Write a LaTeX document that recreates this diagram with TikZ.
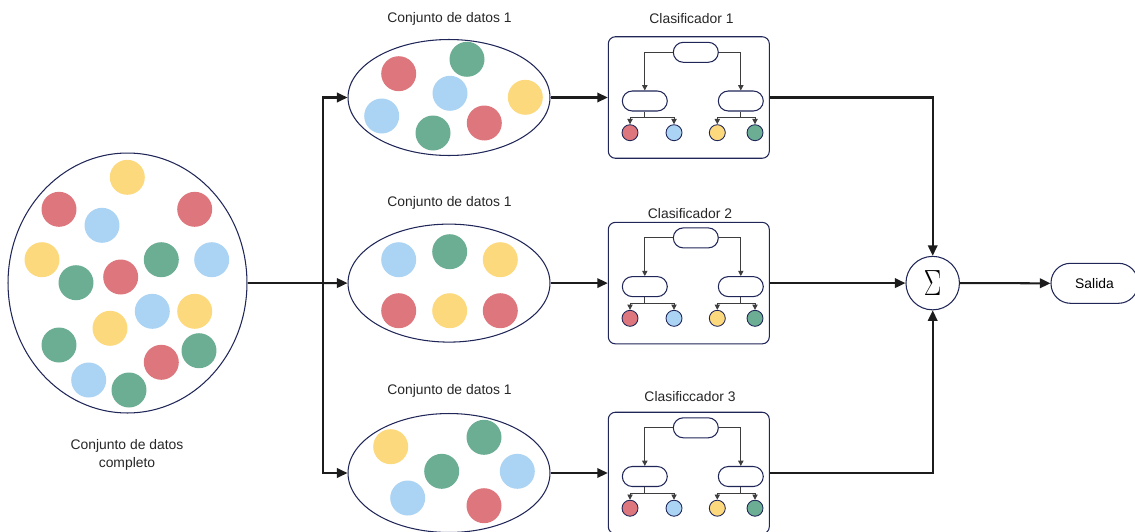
\documentclass[tikz,border=0pt]{standalone}
\usepackage{fontspec}
\setmainfont{Liberation Sans}
\usetikzlibrary{shapes.geometric,arrows.meta}

\definecolor{navy}{RGB}{32,38,88}
\definecolor{ink}{RGB}{28,28,28}
\definecolor{dotred}{RGB}{221,118,125}
\definecolor{dotblue}{RGB}{171,211,243}
\definecolor{dotyellow}{RGB}{253,217,126}
\definecolor{dotgreen}{RGB}{108,174,148}

\tikzset{
  lbl/.style={font=\fontsize{7.9}{10.2}\selectfont, text=black!85, align=center, inner sep=0},
  dot/.style={circle, fill=#1, minimum size=0.7cm, inner sep=0},
  leaf/.style={circle, draw=navy, line width=0.5pt, fill=#1, minimum size=0.32cm, inner sep=0},
  pill/.style={rectangle, draw=navy, line width=0.6pt, rounded corners=0.2cm,
               minimum width=0.9cm, minimum height=0.4cm, inner sep=0},
  setshape/.style={ellipse, draw=navy, line width=0.6pt, inner sep=0},
  clbox/.style={rectangle, draw=navy, line width=0.6pt, rounded corners=0.14cm,
                minimum width=3.22cm, minimum height=2.43cm, inner sep=0},
  flow/.style={draw=ink, line width=1.15pt, -{Triangle[length=6pt,width=5.4pt]}},
  plainflow/.style={draw=ink, line width=1.15pt},
  branch/.style={draw=ink!85, line width=0.55pt, -{Triangle[length=3pt,width=3pt]}},
  plainbranch/.style={draw=ink!85, line width=0.55pt},
}

\begin{document}
\begin{tikzpicture}[x=0.02cm, y=-0.02cm]
\useasboundingbox (0,0) rectangle (1135,531);

% ---------- full data set ----------
\node[setshape, minimum width=4.78cm, minimum height=5.2cm] (all) at (127.5,283) {};
\foreach \px/\py/\c in {
  127.3/177.3/dotyellow, 59/209.3/dotred, 194.7/209.3/dotred, 102/225.3/dotblue,
  42/259.7/dotyellow, 161.3/259.7/dotgreen, 211.7/259.7/dotblue, 76/282.7/dotgreen,
  120.7/277/dotred, 152.3/311.3/dotblue, 194.7/311.3/dotyellow, 110/328.3/dotyellow,
  59/345/dotgreen, 161.3/362.3/dotred, 199/350.7/dotgreen, 88.7/380/dotblue,
  129/390/dotgreen}
  \node[dot=\c] at (\px,\py) {};
\node[lbl] (alllabel) at (127,455) {Conjunto de datos\\completo};

% ---------- bootstrap subsets ----------
\node[setshape, minimum width=4.04cm, minimum height=2.32cm] (e1) at (449,97.5) {};
\node[setshape, minimum width=4.04cm, minimum height=2.36cm] (e2) at (449,283.1) {};
\node[setshape, minimum width=4.04cm, minimum height=2.38cm] (e3) at (449,473) {};

\foreach \px/\py/\c in {
  398.7/73.7/dotred, 467/59.3/dotgreen, 450/93.3/dotblue, 525.3/97.3/dotyellow,
  381.7/116/dotblue, 433/133/dotgreen, 484.3/123/dotred,
  398.7/259.7/dotblue, 449.7/251.7/dotgreen, 500.3/259.7/dotyellow,
  398.7/310.7/dotred, 449.7/310.7/dotyellow, 500.3/310.7/dotred,
  390.7/446.7/dotyellow, 484/437.3/dotgreen, 441.7/471.3/dotgreen,
  517.3/471.3/dotblue, 407.7/498/dotblue, 484/505.7/dotred}
  \node[dot=\c] at (\px,\py) {};

\node[lbl] (e1label) at (449.5,18.5) {Conjunto de datos 1};
\node[lbl] (e2label) at (449.5,202.5) {Conjunto de datos 1};
\node[lbl] (e3label) at (449.5,390.5) {Conjunto de datos 1};

% ---------- classifiers (decision trees) ----------
\foreach \i/\dy in {1/0, 2/185.6, 3/375.5} {
  \node[clbox] (c\i) at (688.8,97.5+\dy) {};
  \node[pill] (t\i) at (695.8,52.3+\dy) {};
  \node[pill] (l\i) at (644.8,101+\dy) {};
  \node[pill] (r\i) at (740.8,101+\dy) {};
  \node[leaf=dotred]    (la\i) at (630,132.7+\dy) {};
  \node[leaf=dotblue]   (lb\i) at (674,132.7+\dy) {};
  \node[leaf=dotyellow] (ra\i) at (717.3,132.7+\dy) {};
  \node[leaf=dotgreen]  (rb\i) at (755,132.7+\dy) {};
  \draw[branch] (t\i.west) -| (l\i.north);
  \draw[branch] (t\i.east) -| (r\i.north);
  \draw[plainbranch] (l\i.south) -- ++(0,6.3) coordinate (lj\i);
  \draw[plainbranch] (r\i.south) -- ++(0,6.3) coordinate (rj\i);
  \draw[branch] (lj\i) -| (la\i.north);
  \draw[branch] (lj\i) -| (lb\i.north);
  \draw[branch] (rj\i) -| (ra\i.north);
  \draw[branch] (rj\i) -| (rb\i.north);
}

\node[lbl] (c1label) at (691.5,18.5) {Clasificador 1};
\node[lbl] (c2label) at (690,214) {Clasificador 2};
\node[lbl] (c3label) at (690,397) {Clasificcador 3};

% ---------- aggregation and output ----------
\node[circle, draw=navy, line width=0.6pt, minimum size=1.07cm, inner sep=0] (sig) at (932.7,283.1)
  {\scalebox{0.72}[1]{\fontsize{21}{21}\selectfont$\Sigma$}};
\node[rectangle, draw=navy, line width=0.6pt, rounded corners=0.39cm,
      minimum width=1.74cm, minimum height=0.8cm, inner sep=0,
      font=\fontsize{7.9}{9.5}\selectfont] (out) at (1094.5,283.3) {Salida};

% ---------- connectors ----------
\coordinate (split) at (323.3,283);
\draw[plainflow] (all.east) -- (split);
\draw[flow] (split) |- (e1.west);
\draw[flow] (split) -- (e2.west);
\draw[flow] (split) |- (e3.west);

\draw[flow] (e1.east) -- (c1.west);
\draw[flow] (e2.east) -- (c2.west);
\draw[flow] (e3.east) -- (c3.west);

\draw[flow] (c1.east) -| (sig.north);
\draw[flow] (c2.east) -- (sig.west);
\draw[flow] (c3.east) -| (sig.south);
\draw[flow] (sig.east) -- (out.west);
\end{tikzpicture}
\end{document}
